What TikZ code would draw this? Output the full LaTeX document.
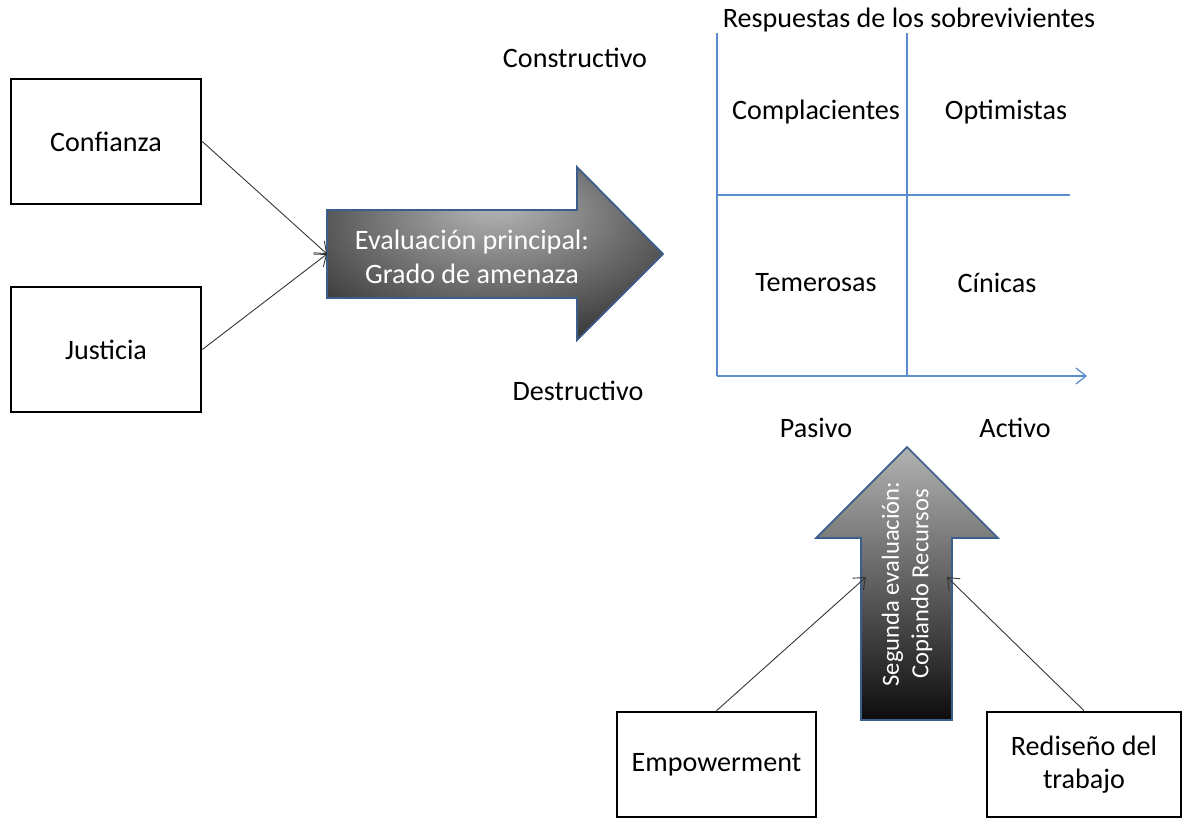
\documentclass[tikz,border=0pt]{standalone}
\usepackage{fontspec}
\setmainfont{Carlito}
\usetikzlibrary{arrows.meta, positioning, calc}

\definecolor{ejeazul}{RGB}{91,141,205}
\definecolor{bordeflecha}{RGB}{59,94,140}
\pgfdeclareradialshading{brillo}{\pgfpoint{0bp}{15bp}}{color(0bp)=(black!28); color(18bp)=(black!55); color(40bp)=(black!88); color(60bp)=(black!95)}

\tikzset{
  caja/.style={draw, line width=1.5pt, minimum width=3.8cm, minimum height=2.5cm},
  flecha/.style={draw=bordeflecha, line width=1pt},
  conector/.style={draw=black!80, line width=0.5pt, -{Straight Barb[length=2mm, width=3.2mm]}},
  eje/.style={draw=ejeazul, line width=0.7pt},
  blanco/.style={text=white, align=center}
}

\begin{document}
\begin{tikzpicture}[x=0.02cm, y=-0.02cm, every node/.style={font=\fontsize{16}{19.2}\selectfont}]
  \useasboundingbox (0,0) rectangle (1186,819);

  % Cajas de entrada
  \node[caja] (confianza) at (106,141.5) {Confianza};
  \node[caja] (justicia) at (106,349.5) {Justicia};
  \node[caja, minimum width=3.98cm, minimum height=2.1cm] (empower) at (716.5,764.5) {Empowerment};
  \node[caja, minimum width=3.88cm, minimum height=2.1cm, align=center] (rediseno) at (1084,764.5) {Rediseño del\\trabajo};

  % Evaluacion principal
  \shade[flecha, shading=brillo] (327,210) -- (577,210) -- (577,167) -- (663,254) -- (577,340) -- (577,298) -- (327,298) -- cycle;
  \coordinate (principal) at (327,254);
  \node[blanco] (evalp) at (472,257) {Evaluación principal:\\Grado de amenaza};

  % Segunda evaluacion
  \shade[flecha, top color=black!30, bottom color=black!95] (861,720) -- (861,538) -- (816,538) -- (907,447) -- (998,538) -- (952,538) -- (952,720) -- cycle;
  \coordinate (segizq) at (866,577);
  \coordinate (segder) at (947,577);
  \node[blanco, rotate=90, font=\fontsize{14}{16.8}\selectfont] (evals) at (907,584) {Segunda evaluación:\\Copiando Recursos};

  % Conectores
  \draw[conector] (confianza.east) -- (principal);
  \draw[conector] (justicia.east) -- (principal);
  \draw[conector] (empower.north) -- (segizq);
  \draw[conector] (rediseno.north) -- (segder);

  % Respuestas de los sobrevivientes
  \draw[eje] (717,33) -- (717,376);
  \draw[eje, -{Straight Barb[length=2mm, width=3.2mm]}] (717,376) -- (1087,376);
  \draw[eje] (907,33) -- (907,376);
  \draw[eje] (717,195) -- (1070,195);

  \node (titulo) at (909,20) {Respuestas de los sobrevivientes};
  \node (constr) at (575,58) {Constructivo};
  \node (destr) at (578,391) {Destructivo};
  \node (pasivo) at (816,428) {Pasivo};
  \node (activo) at (1015,428) {Activo};
  \node (complac) at (816,112) {Complacientes};
  \node (optim) at (1006,112) {Optimistas};
  \node (temer) at (816,283) {Temerosas};
  \node (cinic) at (997,283) {Cínicas};
\end{tikzpicture}
\end{document}
